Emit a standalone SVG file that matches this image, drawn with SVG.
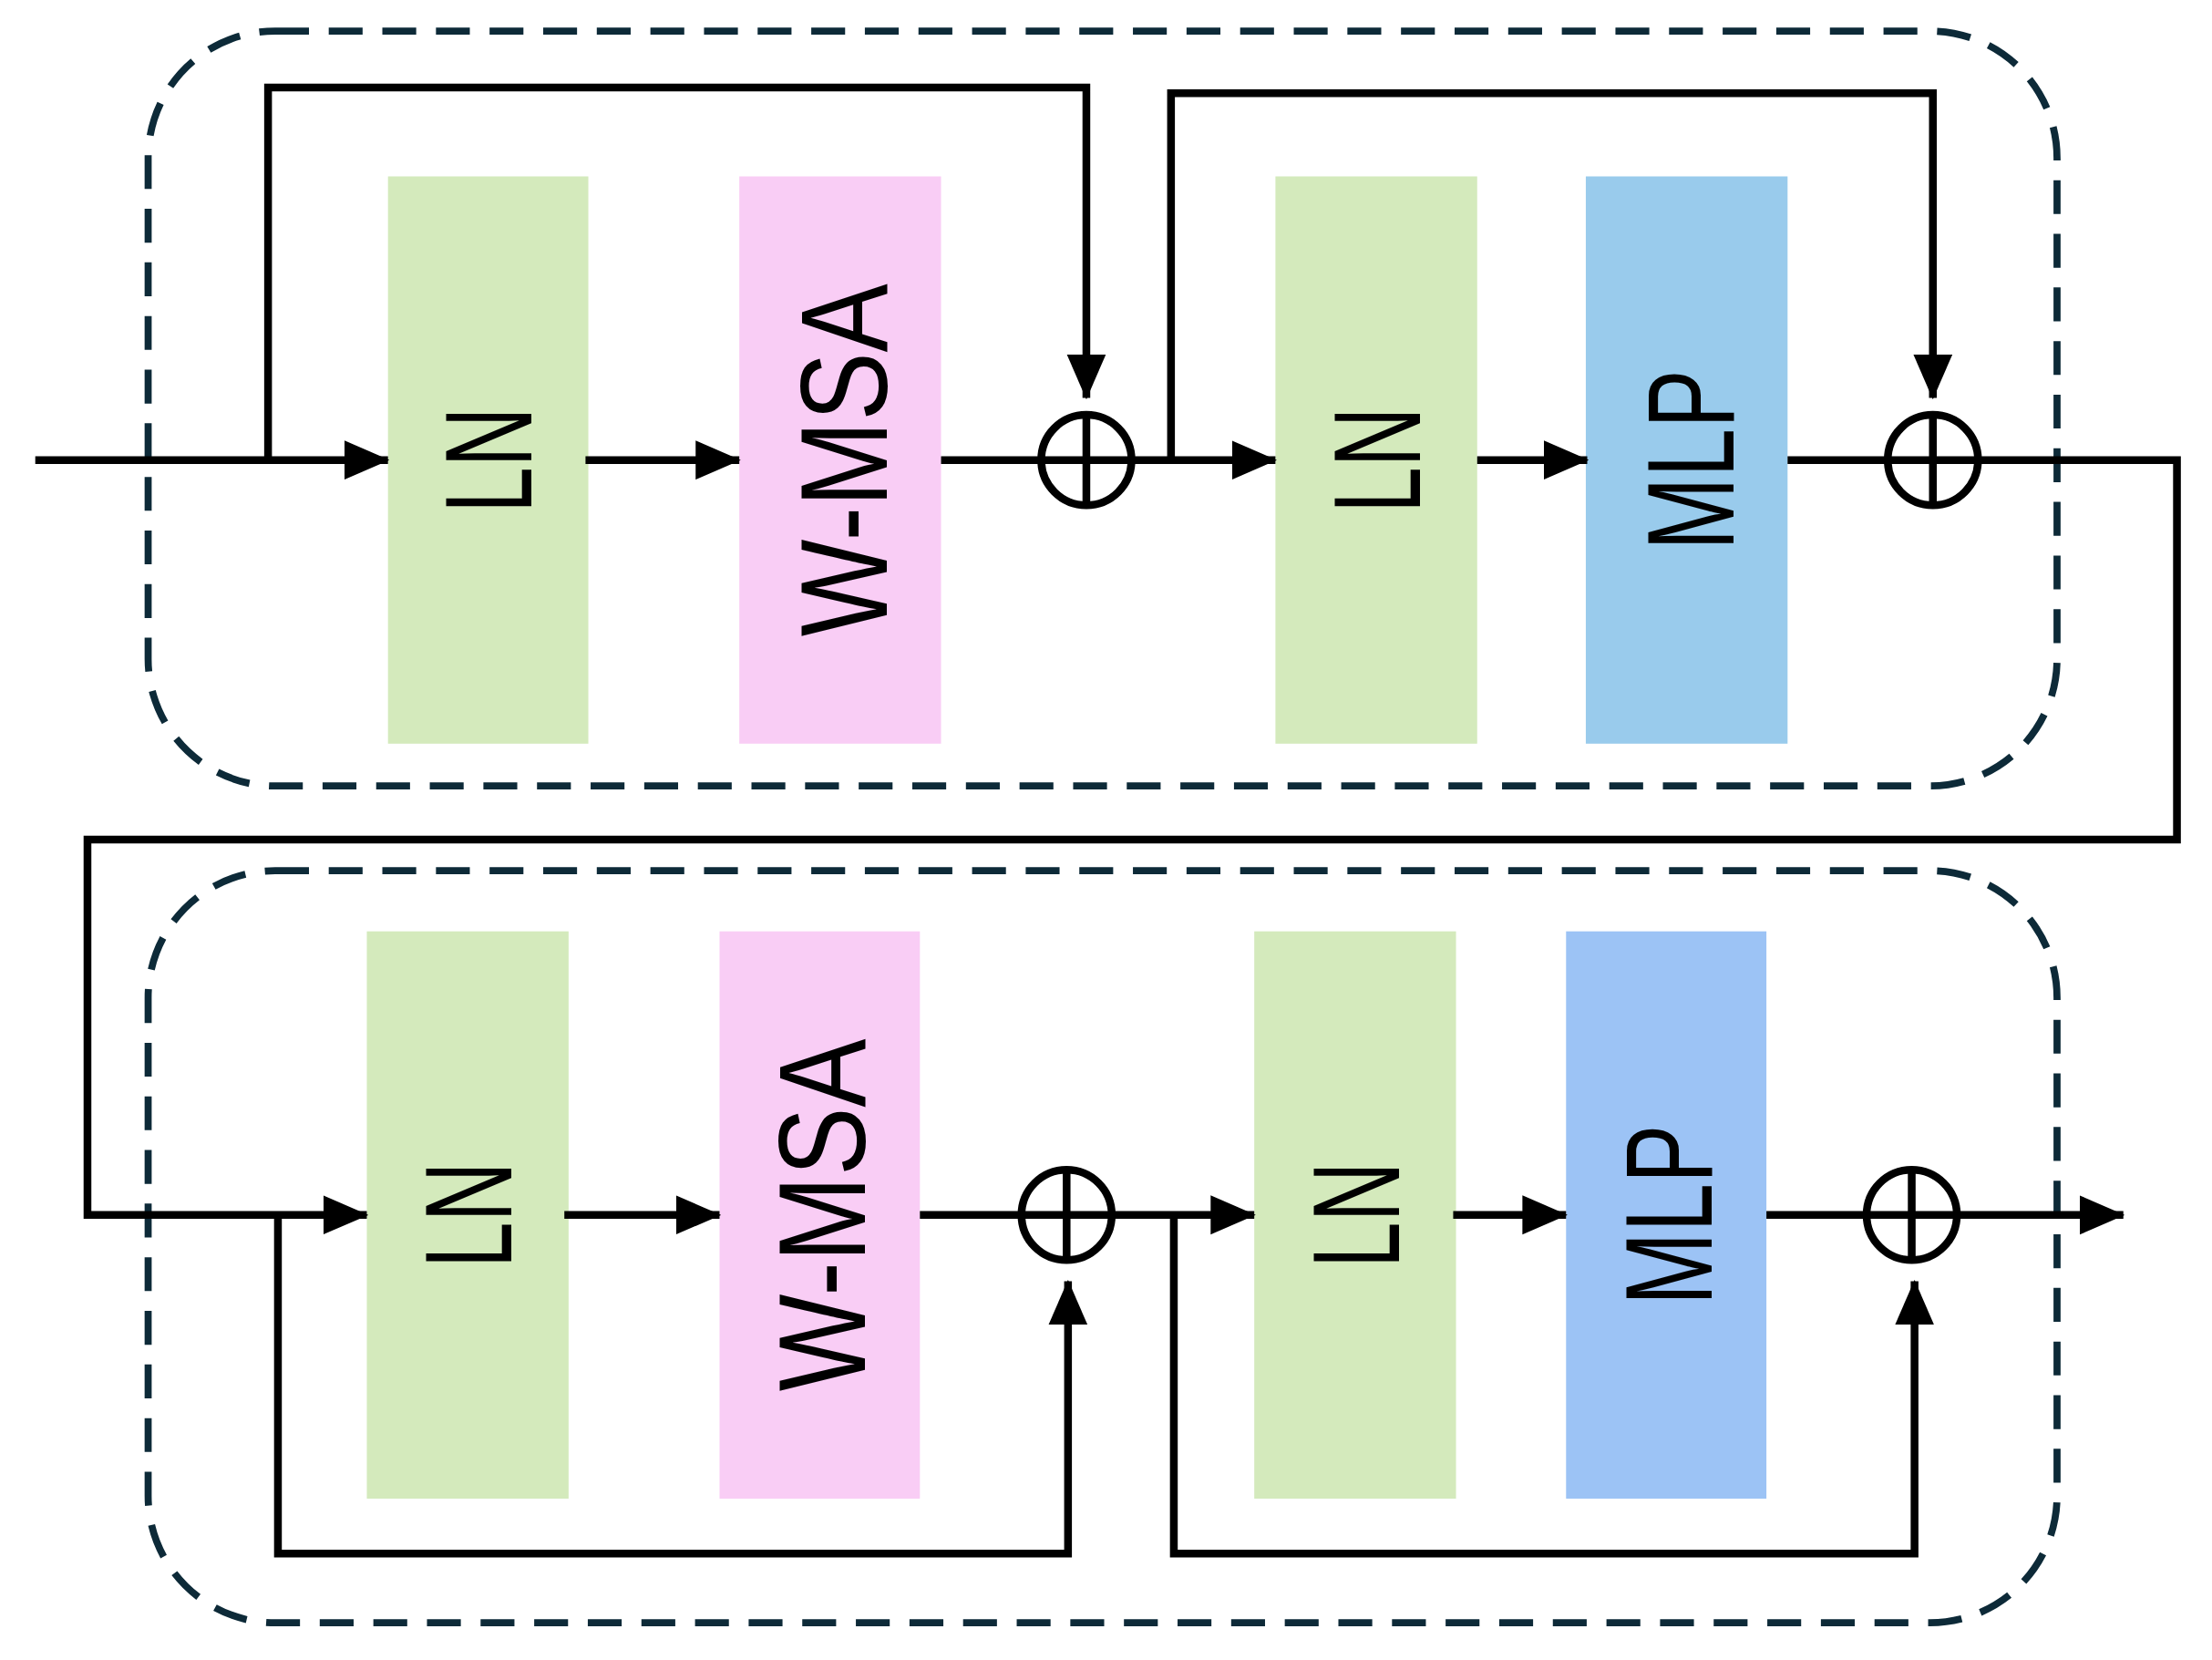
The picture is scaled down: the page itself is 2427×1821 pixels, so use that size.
<svg xmlns="http://www.w3.org/2000/svg" width="2427" height="1821" viewBox="0 0 2427 1821">
<defs>
<marker id="ah" markerUnits="userSpaceOnUse" markerWidth="32" markerHeight="28" viewBox="0 0 30 26" refX="29" refY="13" orient="auto"><path d="M0,0 L30,13 L0,26 Z" fill="#000"/></marker>
<style>
.frame{fill:none;stroke:#0d2a38;stroke-width:5;stroke-dasharray:24 14}
.ln{fill:#d4eabc}.msa{fill:#f9cdf5}.mlp1{fill:#99cbec}.mlp2{fill:#9cc3f5}
.w{fill:none;stroke:#000;stroke-width:5.5}
.a{fill:none;stroke:#000;stroke-width:5.5;marker-end:url(#ah)}
.t{font-family:"Liberation Sans",Arial,sans-serif;font-size:88px;fill:#000;text-anchor:middle;dominant-baseline:central}
.c{fill:none;stroke:#000;stroke-width:5.5}
</style>
</defs>
<rect width="2427" height="1821" fill="#fff"/>
<g transform="scale(1.548)">
<rect class="frame" x="105" y="22" width="1353" height="535" rx="90"/>
<rect class="frame" x="105" y="617" width="1353" height="533" rx="90"/>
<g id="ln1"><rect class="ln" x="275" y="125" width="142" height="402"/><text class="t" transform="translate(346,326) rotate(-90)" textLength="75" lengthAdjust="spacingAndGlyphs">LN</text></g>
<g id="msa1"><rect class="msa" x="524" y="125" width="143" height="402"/><text class="t" transform="translate(598,326) rotate(-90)" textLength="250" lengthAdjust="spacingAndGlyphs">W-MSA</text></g>
<g id="ln2"><rect class="ln" x="904" y="125" width="143" height="402"/><text class="t" transform="translate(976,326) rotate(-90)" textLength="75" lengthAdjust="spacingAndGlyphs">LN</text></g>
<g id="mlp1"><rect class="mlp1" x="1124" y="125" width="143" height="402"/><text class="t" transform="translate(1198,326) rotate(-90)" textLength="128" lengthAdjust="spacingAndGlyphs">MLP</text></g>
<g id="ln3"><rect class="ln" x="260" y="660" width="143" height="402"/><text class="t" transform="translate(332,861) rotate(-90)" textLength="75" lengthAdjust="spacingAndGlyphs">LN</text></g>
<g id="msa2"><rect class="msa" x="510" y="660" width="142" height="402"/><text class="t" transform="translate(583,861) rotate(-90)" textLength="250" lengthAdjust="spacingAndGlyphs">W-MSA</text></g>
<g id="ln4"><rect class="ln" x="889" y="660" width="143" height="402"/><text class="t" transform="translate(961,861) rotate(-90)" textLength="75" lengthAdjust="spacingAndGlyphs">LN</text></g>
<g id="mlp2"><rect class="mlp2" x="1110" y="660" width="142" height="402"/><text class="t" transform="translate(1183,861) rotate(-90)" textLength="128" lengthAdjust="spacingAndGlyphs">MLP</text></g>
<g id="add1"><circle class="c" cx="770" cy="326" r="32"/><path class="w" d="M738,326H802M770,294V358"/></g>
<g id="add2"><circle class="c" cx="1370" cy="326" r="32"/><path class="w" d="M1338,326H1402M1370,294V358"/></g>
<g id="add3"><circle class="c" cx="756" cy="861" r="32"/><path class="w" d="M724,861H788M756,829V893"/></g>
<g id="add4"><circle class="c" cx="1355" cy="861" r="32"/><path class="w" d="M1323,861H1387M1355,829V893"/></g>
<g id="connectors">
<path class="a" d="M25,326H275"/>
<path class="a" d="M190,326V62H770V282"/>
<path class="a" d="M415,326H524"/>
<path class="w" d="M667,326H738"/>
<path class="a" d="M802,326H904"/>
<path class="a" d="M830,326V66H1370V282"/>
<path class="a" d="M1047,326H1125"/>
<path class="w" d="M1267,326H1338"/>
<path class="a" d="M1402,326H1543V595H62V861H260"/>
<path class="a" d="M400,861H510"/>
<path class="w" d="M652,861H724"/>
<path class="a" d="M197,861V1101H757V908"/>
<path class="a" d="M788,861H889"/>
<path class="a" d="M832,861V1101H1357V908"/>
<path class="a" d="M1030,861H1110"/>
<path class="w" d="M1252,861H1323"/>
<path class="a" d="M1387,861H1505"/>
</g>
</g>
</svg>
